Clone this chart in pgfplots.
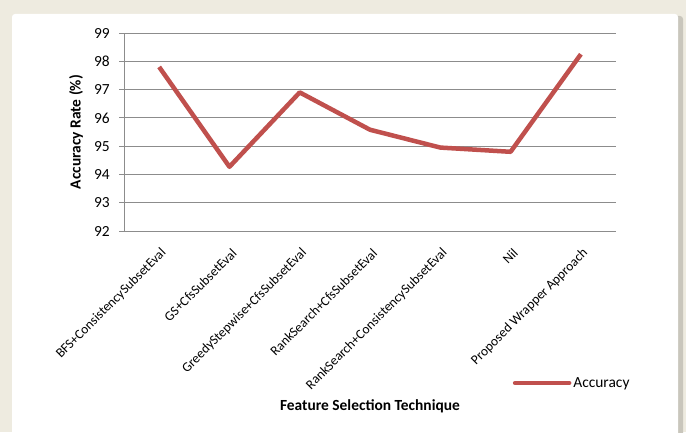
\documentclass[border=0pt]{standalone}
\usepackage{pgfplots}
\pgfplotsset{compat=1.18}
\usepackage{fontspec}
\setmainfont{Carlito}
\definecolor{frame}{HTML}{EEEBE0}
\definecolor{shadow}{HTML}{C9C6BC}
\definecolor{gridc}{HTML}{8C8C8C}
\definecolor{linec}{HTML}{C0504D}
\begin{document}
\begin{tikzpicture}[x=1bp,y=1bp]
\useasboundingbox (0,0) rectangle (686,432);
\begin{scope}
\clip (0,0) rectangle (686,432);
\fill[frame] (0,0) rectangle (686,432);
\fill[shadow,rounded corners=3] (14,-10) rectangle (683,416);
\fill[white,rounded corners=3] (12,-10) rectangle (678,418);
\end{scope}
\begin{axis}[
  at={(124bp,201bp)}, anchor=south west,
  scale only axis, width=492bp, height=198bp,
  xmin=-0.5, xmax=6.5, ymin=92, ymax=99,
  ytick={92,...,99},
  xtick={0,...,6},
  xticklabels={BFS+ConsistencySubsetEval,GS+CfsSubsetEval,GreedyStepwise+CfsSubsetEval,RankSearch+CfsSubsetEval,RankSearch+ConsistencySubsetEval,Nil,Proposed Wrapper Approach},
  x tick label style={rotate=45, anchor=east, font=\fontsize{13.5}{14}\selectfont, inner sep=0pt, xshift=-7bp, yshift=-14bp},
  y tick label style={font=\fontsize{15.5}{16}\selectfont, inner sep=0pt, xshift=-9bp},
  /pgf/number format/assume math mode=true,
  axis lines*=left,
  axis line style={gridc, line width=0.8pt},
  ymajorgrids, grid style={gridc, line width=0.8pt},
  major tick length=5bp,
  ytick style={gridc, line width=0.8pt},
  xtick style={draw=none},
  tick align=outside,
  xlabel={\textbf{Feature Selection Technique}},
  ylabel={\textbf{Accuracy Rate (\%)}},
  label style={font=\fontsize{15.5}{16}\selectfont},
  xlabel style={at={(rel axis cs:0.5,0)}, anchor=center, yshift=-175bp},
  ylabel style={at={(rel axis cs:0,0.5)}, anchor=center, yshift=48bp},
  legend style={at={(rel axis cs:0.79,-0.768)}, anchor=west, draw=none, fill=none, font=\fontsize{15.5}{16}\selectfont, legend cell align=left, inner sep=0pt},
  legend image code/.code={\draw[#1, line width=4.5bp, line cap=round] (0bp,0bp) -- (54bp,0bp);},
  clip=false,
]
\addplot[linec, line width=4.5bp, line join=round] coordinates {
  (0,97.80) (1,94.27) (2,96.90) (3,95.58) (4,94.95) (5,94.80) (6,98.25)
};
\addlegendentry{Accuracy}
\end{axis}
\end{tikzpicture}
\end{document}
